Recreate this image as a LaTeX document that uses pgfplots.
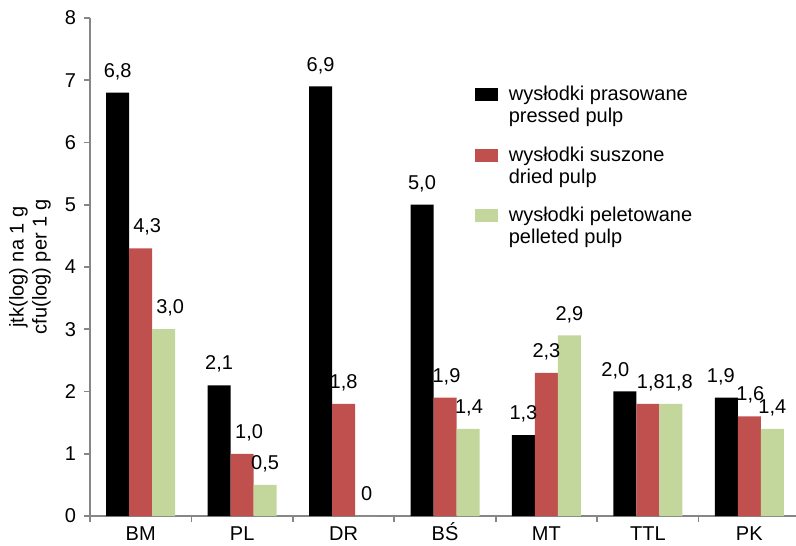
\documentclass[border=0pt]{standalone}
\usepackage{pgfplots}
\pgfplotsset{compat=1.18}
\usepackage{pgfplotstable}
\usepackage{fontspec}
\setmainfont{Liberation Sans}
\definecolor{cred}{HTML}{C0504D}
\definecolor{cgreen}{HTML}{C3D69B}
\definecolor{axgray}{HTML}{868686}
\pgfplotstableread{
x y lab dx
0 6.8 {6,8} 0
1 2.1 {2,1} 0
2 6.9 {6,9} 0
3 5.0 {5,0} 0
4 1.3 {1,3} 0
5 2.0 {2,0} -4.75
6 1.9 {1,9} -2.75
}\tblA
\pgfplotstableread{
x y lab dx
0 4.3 {4,3} 3.25
1 1.0 {1,0} 3.5
2 1.8 {1,8} 0
3 1.9 {1,9} 0.75
4 2.3 {2,3} 0
5 1.8 {1,8} 1.5
6 1.6 {1,6} 0.5
}\tblB
\pgfplotstableread{
x y lab dx
0 3.0 {3,0} 3.25
1 0.5 {0,5} 0
2 0.0 {0} 0
3 1.4 {1,4} 0.5
4 2.9 {2,9} 0
5 1.8 {1,8} 4
6 1.4 {1,4} 0
}\tblC
\begin{document}
\begin{tikzpicture}
\begin{axis}[
  name=ax,
  scale only axis,
  width=355pt, height=249pt,
  font=\fontsize{10}{11.5}\selectfont,
  ybar, bar width=11.5pt,
  xmin=-0.5, xmax=6.5,
  ymin=0, ymax=8,
  ytick={0,...,8},
  xtick={0,...,6},
  xticklabels={BM,PL,DR,BŚ,MT,TTL,PK},
  minor xtick={-0.5,0.5,...,6.5},
  major x tick style={draw=none},
  minor x tick style={draw=axgray, line width=0.8pt},
  y tick style={draw=axgray, line width=0.8pt},
  tick align=outside,
  major tick length=3pt, minor tick length=3pt,
  axis x line*=bottom, axis y line*=left,
  axis line style={draw=axgray, line width=0.8pt, -},
  /pgf/number format/assume math mode=true,
  xticklabel style={text height=7.2pt, text depth=0pt, inner sep=0pt, anchor=north, yshift=-2pt},
  yticklabel style={xshift=-0.5pt},
  ylabel={jtk(log) na 1 g\\cfu(log) per 1 g},
  ylabel style={align=center, at={(axis description cs:-0.0845,0.5)}, anchor=center},
  nodes near coords,
  point meta=explicit symbolic,
  visualization depends on={\thisrow{dx} \as \dx},
  every node near coord/.append style={font=\fontsize{10}{11.5}\selectfont, text depth=0pt, yshift=4.2pt, xshift=\dx pt},
  legend image code/.code={\fill[#1] (0pt,-3.3pt) rectangle (11.5pt,3.3pt);},
  legend style={at={(rel axis cs:0.533,0.88)}, anchor=north west, draw=none, fill=none,
    font=\fontsize{10}{11}\selectfont, row sep=17.5pt, cells={anchor=west},
    /tikz/every odd column/.append style={column sep=3.5pt}},
]
\addplot[fill=black, draw=none, bar shift=-11.5pt] table[x=x,y=y,meta=lab] {\tblA};
\addplot[fill=cred, draw=none, bar shift=0pt] table[x=x,y=y,meta=lab] {\tblB};
\addplot[fill=cgreen, draw=none, bar shift=11.5pt] table[x=x,y=y,meta=lab] {\tblC};
\legend{{\vtop{\hbox{wysłodki prasowane}\hbox{pressed pulp}}},
        {\vtop{\hbox{wysłodki suszone}\hbox{dried pulp}}},
        {\vtop{\hbox{wysłodki peletowane}\hbox{pelleted pulp}}}}
\end{axis}
\pgfresetboundingbox
\path[use as bounding box] ([shift={(-45pt,-14.5pt)}]ax.south west) rectangle ([shift={(-2pt,9pt)}]ax.north east);
\end{tikzpicture}
\end{document}
